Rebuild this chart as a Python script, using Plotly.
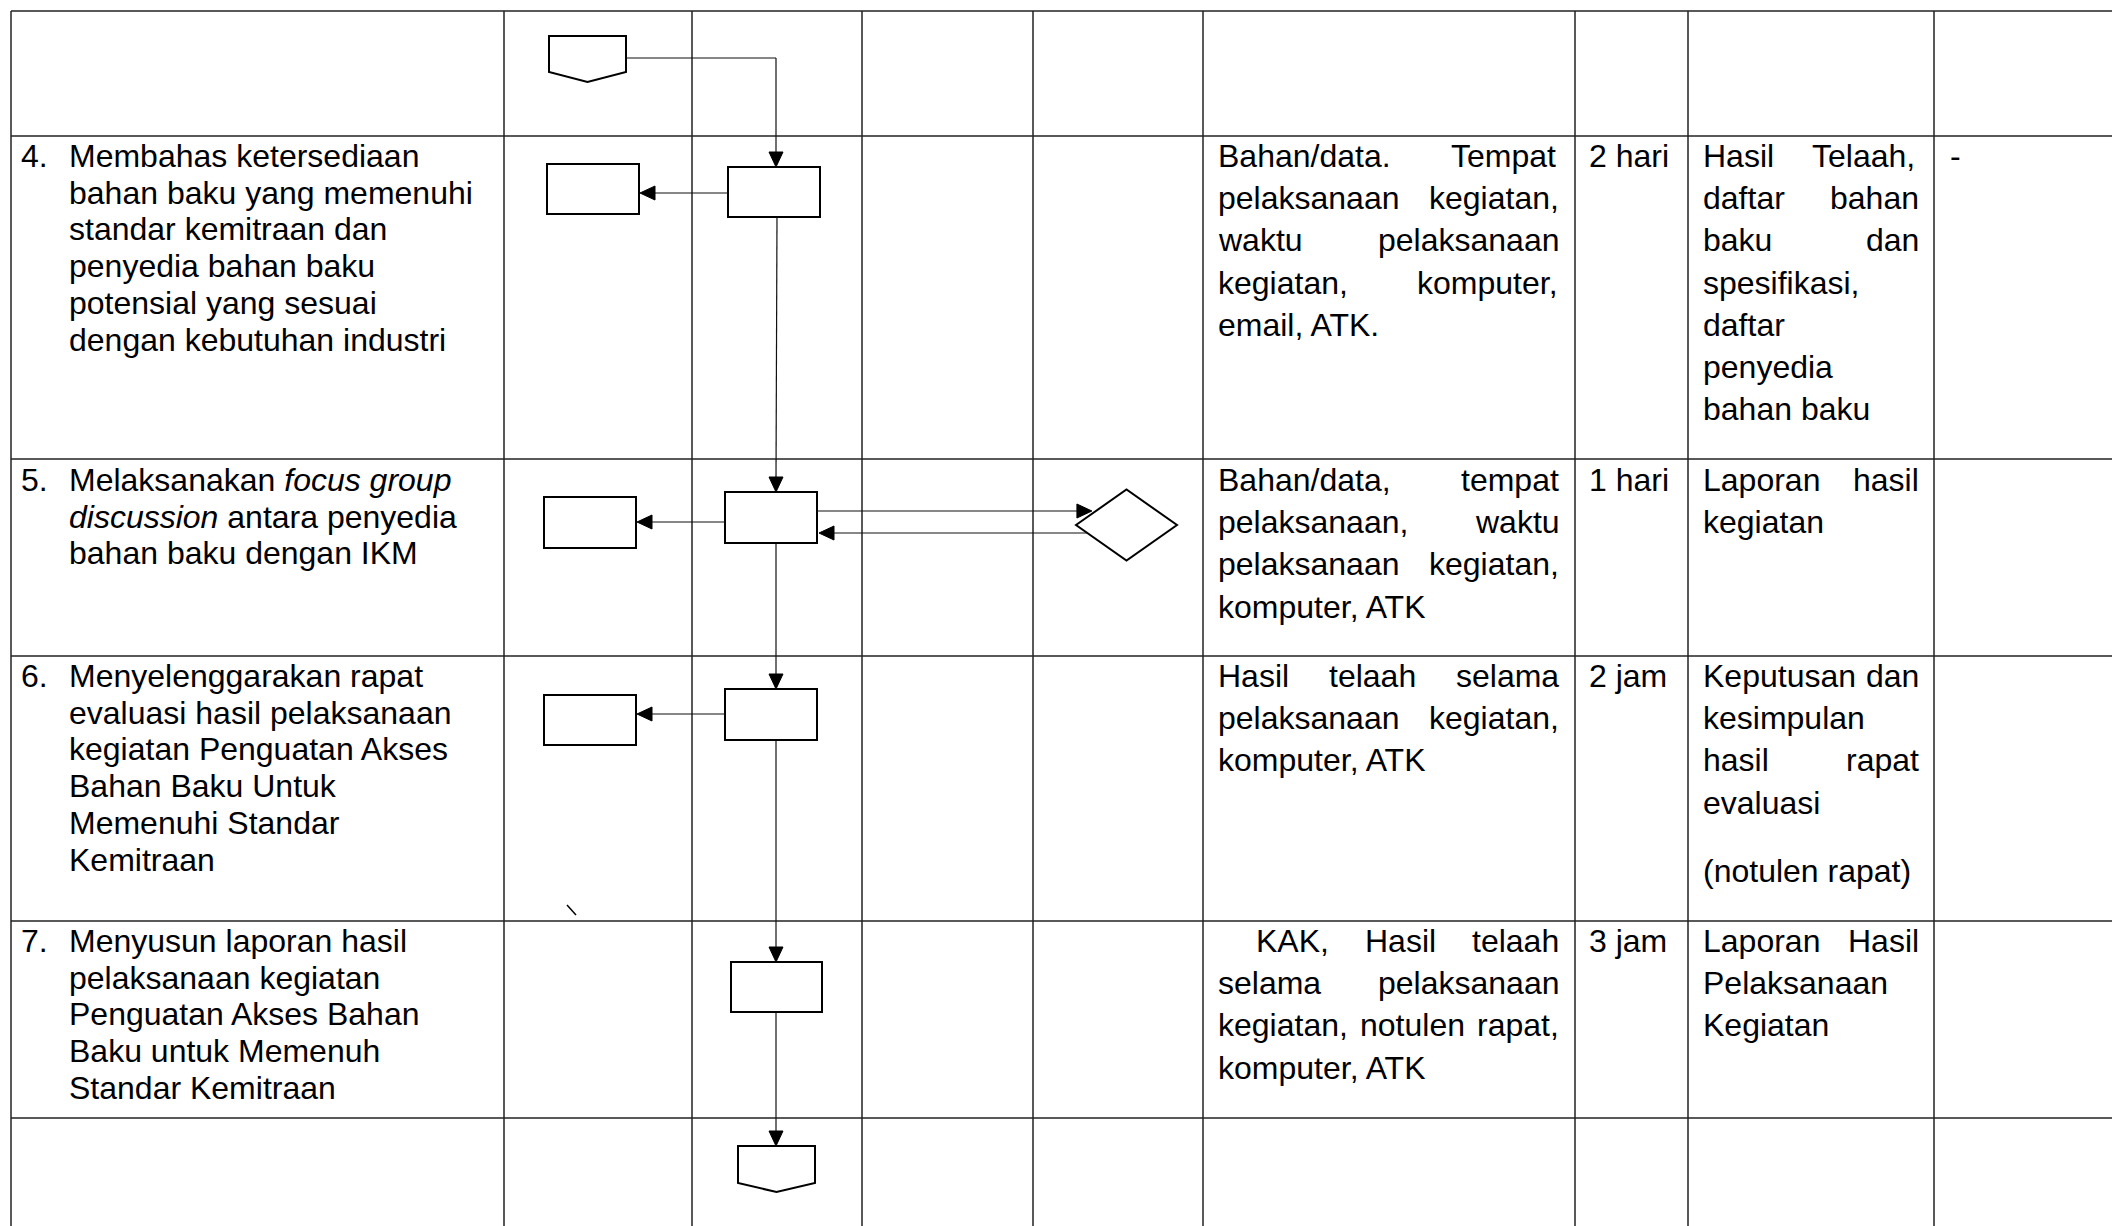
import plotly.graph_objects as go

W, H = 2112, 1226
FONT = "Liberation Sans, Arial, sans-serif"
FS = 32

# ---------------- table grid ----------------
col_x = [11, 504, 692, 862, 1033, 1203, 1575, 1688, 1934]
row_y = [11, 136, 459, 656, 921, 1118]

# ---------------- text content ----------------
step_numbers = ["4.", "5.", "6.", "7."]
step_lines = [
    ["Membahas ketersediaan", "bahan baku yang memenuhi", "standar kemitraan dan",
     "penyedia bahan baku", "potensial yang sesuai", "dengan kebutuhan industri"],
    ["Melaksanakan <i>focus group</i>", "<i>discussion</i> antara penyedia", "bahan baku dengan IKM"],
    ["Menyelenggarakan rapat", "evaluasi hasil pelaksanaan", "kegiatan Penguatan Akses",
     "Bahan Baku Untuk", "Memenuhi Standar", "Kemitraan"],
    ["Menyusun laporan hasil", "pelaksanaan kegiatan", "Penguatan Akses Bahan",
     "Baku untuk Memenuh", "Standar Kemitraan"],
]
# (text, justified)
kelengkapan = [
    [("Bahan/data. Tempat", True), ("pelaksanaan kegiatan,", True), ("waktu pelaksanaan", True),
     ("kegiatan, komputer,", True), ("email, ATK.", False)],
    [("Bahan/data, tempat", True), ("pelaksanaan, waktu", True), ("pelaksanaan kegiatan,", True),
     ("komputer, ATK", False)],
    [("Hasil telaah selama", True), ("pelaksanaan kegiatan,", True), ("komputer, ATK", False)],
    [("KAK, Hasil telaah", True), ("selama pelaksanaan", True), ("kegiatan, notulen rapat,", True),
     ("komputer, ATK", False)],
]
kelengkapan_indent = [0, 0, 0, 38]
waktu = ["2 hari", "1 hari", "2 jam", "3 jam"]
output = [
    [("Hasil Telaah,", True), ("daftar bahan", True), ("baku dan", True), ("spesifikasi,", False),
     ("daftar", False), ("penyedia", False), ("bahan baku", False)],
    [("Laporan hasil", True), ("kegiatan", False)],
    [("Keputusan dan", True), ("kesimpulan", False), ("hasil rapat", True), ("evaluasi", False),
     ("(notulen rapat)", False)],
    [("Laporan Hasil", True), ("Pelaksanaan", False), ("Kegiatan", False)],
]
# extra paragraph spacing before a given line: {(row, line_index): px}
output_para_gap = {(2, 4): 26}
keterangan = ["-", "", "", ""]

# first text line (cap centre) in each activity row
row_first_y = [156, 480, 676, 941]
col1_step = 36.7
col6_step = 42.2

# ---------------- flowchart geometry ----------------
main_boxes = [(728, 167, 820, 217), (725, 492, 817, 543), (725, 689, 817, 740), (731, 962, 822, 1012)]
side_boxes = [(547, 164, 639, 214), (544, 497, 636, 548), (544, 695, 636, 745)]
side_arrow_y = [193, 522, 714]
vline_x = 776
diamond = dict(cx=1126.5, cy=525, hw=50.5, hh=35.5)
fwd_y, back_y = 511, 533
start_conn = dict(x0=549, x1=626, y0=36, ys=72, yt=82)
end_conn = dict(x0=738, x1=815, y0=1146, ys=1183, yt=1192)
start_link_y = 58

# ---------------- helpers ----------------
AW = {' ': 278, '!': 278, '"': 355, '#': 556, '$': 556, '%': 889, '&': 667, "'": 191, '(': 333, ')': 333,
      '*': 389, '+': 584, ',': 278, '-': 333, '.': 278, '/': 278, ':': 278, ';': 278, '?': 556,
      'A': 667, 'B': 667, 'C': 722, 'D': 722, 'E': 667, 'F': 611, 'G': 778, 'H': 722, 'I': 278,
      'J': 500, 'K': 667, 'L': 556, 'M': 833, 'N': 722, 'O': 778, 'P': 667, 'Q': 778, 'R': 722,
      'S': 667, 'T': 611, 'U': 722, 'V': 667, 'W': 944, 'X': 667, 'Y': 667, 'Z': 611,
      'a': 556, 'b': 556, 'c': 500, 'd': 556, 'e': 556, 'f': 278, 'g': 556, 'h': 556, 'i': 222,
      'j': 222, 'k': 500, 'l': 222, 'm': 833, 'n': 556, 'o': 556, 'p': 556, 'q': 556, 'r': 333,
      's': 500, 't': 278, 'u': 556, 'v': 500, 'w': 722, 'x': 500, 'y': 500, 'z': 500}
for d in "0123456789":
    AW[d] = 556


def tw(s):
    return sum(AW.get(c, 556) for c in s) * FS / 1000.0


annotations = []
shapes = []


def text(x, y, s, anchor="left"):
    annotations.append(dict(x=x, y=y, xref="x", yref="y", text=s, showarrow=False,
                            xanchor=anchor, yanchor="middle", borderpad=0, borderwidth=0,
                            font=dict(family=FONT, size=FS, color="black")))


def para(lines, x_left, x_right, y0, step, indent=0, gaps=None):
    extra = 0
    for i, (s, just) in enumerate(lines):
        if gaps and i in gaps:
            extra += gaps[i]
        y = y0 + i * step + extra
        xl = x_left + (indent if i == 0 else 0)
        words = s.split(" ")
        if just and len(words) > 1:
            total = sum(tw(w) for w in words)
            gap = (x_right - xl - total) / (len(words) - 1)
            x = xl
            for w in words:
                text(x, y, w)
                x += tw(w) + gap
        else:
            text(xl, y, s)


def line(x0, y0, x1, y1, w=1.2, color="#111"):
    shapes.append(dict(type="line", x0=x0, y0=y0, x1=x1, y1=y1, xref="x", yref="y",
                       line=dict(color=color, width=w)))


def rect(b, w=2):
    shapes.append(dict(type="rect", x0=b[0], y0=b[1], x1=b[2], y1=b[3], xref="x", yref="y",
                       line=dict(color="black", width=w), fillcolor="white"))


def path(p, w=2, fill="white"):
    shapes.append(dict(type="path", path=p, xref="x", yref="y",
                       line=dict(color="black", width=w), fillcolor=fill))


AL, AH = 15, 7


def head_down(x, yt):
    path(f"M{x-AH},{yt-AL} L{x+AH},{yt-AL} L{x},{yt} Z", w=1, fill="black")


def head_left(xt, y):
    path(f"M{xt+AL},{y-AH} L{xt+AL},{y+AH} L{xt},{y} Z", w=1, fill="black")


def head_right(xt, y):
    path(f"M{xt-AL},{y-AH} L{xt-AL},{y+AH} L{xt},{y} Z", w=1, fill="black")


# ---------------- grid ----------------
for x in col_x:
    line(x, row_y[0], x, H + 5, w=1.5, color="#222")
for y in row_y:
    line(col_x[0], y, W + 5, y, w=1.5, color="#222")

# ---------------- texts ----------------
for r in range(4):
    y0 = row_first_y[r]
    text(21, y0, step_numbers[r])
    for i, s in enumerate(step_lines[r]):
        text(69, y0 + i * col1_step, s)
    para(kelengkapan[r], 1217.5, 1559, y0, col6_step, indent=kelengkapan_indent[r])
    text(1589, y0, waktu[r])
    gaps = {k[1]: v for k, v in output_para_gap.items() if k[0] == r}
    para(output[r], 1703, 1919, y0, col6_step, gaps=gaps)
    if keterangan[r]:
        text(1950, y0, keterangan[r])

# ---------------- flowchart ----------------
sc = start_conn
cx = (sc["x0"] + sc["x1"]) / 2
path(f"M{sc['x0']},{sc['y0']} L{sc['x1']},{sc['y0']} L{sc['x1']},{sc['ys']} L{cx},{sc['yt']} "
     f"L{sc['x0']},{sc['ys']} Z")
line(sc["x1"], start_link_y, vline_x, start_link_y)
line(vline_x, start_link_y, vline_x, main_boxes[0][1] - AL)
head_down(vline_x, main_boxes[0][1])

for i in range(3):
    line(vline_x + (1 if i == 0 else 0), main_boxes[i][3], vline_x, main_boxes[i + 1][1] - AL)
    head_down(vline_x, main_boxes[i + 1][1])

ec = end_conn
line(vline_x, main_boxes[3][3], vline_x, ec["y0"] - AL)
head_down(vline_x, ec["y0"])
ecx = (ec["x0"] + ec["x1"]) / 2
path(f"M{ec['x0']},{ec['y0']} L{ec['x1']},{ec['y0']} L{ec['x1']},{ec['ys']} L{ecx},{ec['yt']} "
     f"L{ec['x0']},{ec['ys']} Z")

for b in main_boxes:
    rect(b)
for i, b in enumerate(side_boxes):
    rect(b)
    y = side_arrow_y[i]
    line(main_boxes[i][0], y, b[2] + AL, y)
    head_left(b[2] + 1, y)

d = diamond
path(f"M{d['cx']-d['hw']},{d['cy']} L{d['cx']},{d['cy']-d['hh']} L{d['cx']+d['hw']},{d['cy']} "
     f"L{d['cx']},{d['cy']+d['hh']} Z")
fwd_tip = d["cx"] - d["hw"] * (1 - (d["cy"] - fwd_y) / d["hh"]) - 4
back_start = d["cx"] - d["hw"] * (1 - (back_y - d["cy"]) / d["hh"])
line(main_boxes[1][2], fwd_y, fwd_tip - AL, fwd_y)
head_right(fwd_tip, fwd_y)
line(back_start, back_y, main_boxes[1][2] + AL, back_y)
head_left(main_boxes[1][2] + 2, back_y)

# stray mark
line(567, 905, 576, 915, w=1.5, color="black")

fig = go.Figure()
fig.update_layout(
    width=W, height=H, margin=dict(l=0, r=0, t=0, b=0),
    paper_bgcolor="white", plot_bgcolor="white",
    xaxis=dict(range=[0, W], visible=False, fixedrange=True),
    yaxis=dict(range=[H, 0], visible=False, fixedrange=True),
    shapes=shapes, annotations=annotations, showlegend=False,
)
fig.write_html("out.html", config={"displayModeBar": False, "staticPlot": True},
               post_script="document.body.style.margin='0';document.body.style.overflow='hidden';")
